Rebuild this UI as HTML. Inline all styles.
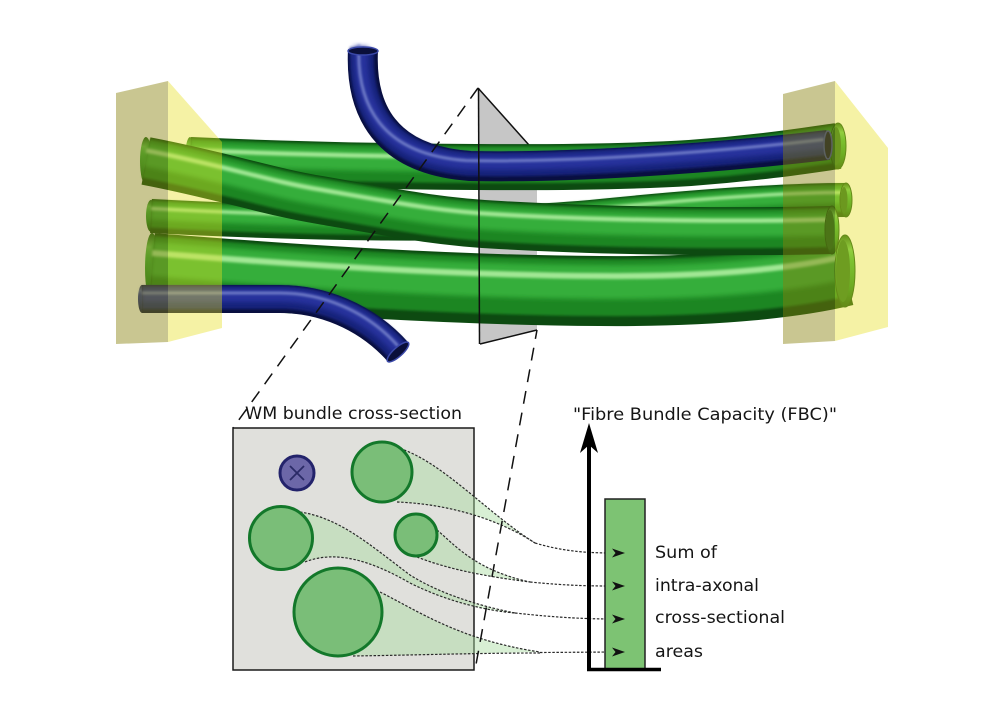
<!DOCTYPE html>
<html><head><meta charset="utf-8"><style>
html,body{margin:0;padding:0;background:#fff;}
svg{display:block;}
text{font-family:"DejaVu Sans","Liberation Sans",sans-serif;fill:#151515;}
</style></head><body>
<svg width="992" height="716" viewBox="0 0 992 716" xmlns="http://www.w3.org/2000/svg">
<defs>
<path id="pA" fill="none" d="M190,160 C320,166 560,171 690,163 C760,158 810,150 838,146"/>
<path id="pB" fill="none" d="M146,161 C220,175 270,192 320,200 C400,214 440,222 500,225 C620,232 760,232 832,230"/>
<path id="pC" fill="none" d="M151,216 C300,224 480,228 600,216 C700,206 790,200 846,200"/>
<path id="pD" fill="none" d="M152,268 C300,280 450,290 600,291 C720,292 800,282 845,271"/>
<path id="pE" fill="none" d="M142,299 L280,299 C320,299 365,315 398,352"/>
<path id="pF" fill="none" d="M363,50 C360,110 385,160 470,166 C560,168 700,160 828,145"/>
<linearGradient id="gG" x1="0" y1="0" x2="0" y2="1">
<stop offset="0" stop-color="#145e18"/><stop offset="0.2" stop-color="#5cc456"/><stop offset="0.35" stop-color="#39b03e"/><stop offset="0.7" stop-color="#1e8a26"/><stop offset="1" stop-color="#0f5214"/>
</linearGradient>
<linearGradient id="gBl" x1="0" y1="0" x2="0" y2="1">
<stop offset="0" stop-color="#0c1450"/><stop offset="0.2" stop-color="#5a66b8"/><stop offset="0.35" stop-color="#24309a"/><stop offset="0.7" stop-color="#18237a"/><stop offset="1" stop-color="#090f40"/>
</linearGradient>
<filter id="f1" filterUnits="userSpaceOnUse" x="0" y="0" width="992" height="716"><feGaussianBlur stdDeviation="1.2"/></filter>
<filter id="f2" filterUnits="userSpaceOnUse" x="0" y="0" width="992" height="716"><feGaussianBlur stdDeviation="2.5"/></filter>
</defs>

<!-- grey plane -->
<polygon points="478,88 537,154 537,330 480,344" fill="#c6c6c6"/>
<line x1="478" y1="88" x2="537" y2="154" stroke="#111" stroke-width="1.5"/>
<line x1="480" y1="344" x2="537" y2="330" stroke="#111" stroke-width="1.5"/>

<!-- Tube C -->
<g>
<ellipse cx="151" cy="216" rx="5" ry="16" fill="url(#gG)"/>
<use href="#pC" stroke="#0d4a11" stroke-width="34"/>
<use href="#pC" stroke="#1c8624" stroke-width="27" transform="translate(0,-2)" filter="url(#f1)"/>
<use href="#pC" stroke="#34ae3a" stroke-width="16" transform="translate(0,-4.5)" filter="url(#f2)"/>
<use href="#pC" stroke="#a2e895" stroke-width="3.5" transform="translate(0,-7.5)" filter="url(#f1)"/>
<ellipse cx="846" cy="200" rx="6" ry="17" fill="url(#gG)" stroke="#0f5214" stroke-width="1"/>
<ellipse cx="844" cy="200" rx="3.5" ry="13" fill="#1c6a21"/>
</g>

<!-- Tube A -->
<g>
<ellipse cx="190" cy="160" rx="5" ry="23" fill="url(#gG)"/>
<use href="#pA" stroke="#0d4a11" stroke-width="46"/>
<use href="#pA" stroke="#1c8624" stroke-width="37" transform="translate(0,-2.5)" filter="url(#f1)"/>
<use href="#pA" stroke="#34ae3a" stroke-width="22" transform="translate(0,-6)" filter="url(#f2)"/>
<use href="#pA" stroke="#a2e895" stroke-width="4.5" transform="translate(0,-10)" filter="url(#f1)"/>
<ellipse cx="838" cy="146" rx="8" ry="23" fill="url(#gG)" stroke="#0f5214" stroke-width="1"/>
<ellipse cx="836" cy="146" rx="5" ry="19" fill="#1c6a21"/>
</g>

<!-- Tube D -->
<g>
<ellipse cx="152" cy="268" rx="7" ry="35" fill="url(#gG)"/>
<use href="#pD" stroke="#0d4a11" stroke-width="70"/>
<use href="#pD" stroke="#1c8624" stroke-width="57" transform="translate(0,-3.5)" filter="url(#f1)"/>
<use href="#pD" stroke="#34ae3a" stroke-width="34" transform="translate(0,-9)" filter="url(#f2)"/>
<use href="#pD" stroke="#a2e895" stroke-width="6" transform="translate(0,-15)" filter="url(#f1)"/>
<ellipse cx="845" cy="271" rx="10" ry="36" fill="url(#gG)" stroke="#0f5214" stroke-width="1"/>
<ellipse cx="843" cy="271" rx="7" ry="31" fill="#1f7224"/>
</g>

<!-- Tube B -->
<g>
<ellipse cx="146" cy="161" rx="6" ry="24" fill="url(#gG)"/>
<use href="#pB" stroke="#0d4a11" stroke-width="48"/>
<use href="#pB" stroke="#1c8624" stroke-width="39" transform="translate(0,-2.5)" filter="url(#f1)"/>
<use href="#pB" stroke="#34ae3a" stroke-width="23" transform="translate(0,-6)" filter="url(#f2)"/>
<use href="#pB" stroke="#a2e895" stroke-width="4.5" transform="translate(0,-10.5)" filter="url(#f1)"/>
<ellipse cx="832" cy="230" rx="7" ry="24" fill="url(#gG)" stroke="#0f5214" stroke-width="1"/>
<ellipse cx="830" cy="230" rx="4.5" ry="20" fill="#1c6a21"/>
</g>

<!-- Blue tube E -->
<g>
<ellipse cx="142" cy="299" rx="4" ry="14" fill="url(#gBl)"/>
<use href="#pE" stroke="#090f40" stroke-width="28"/>
<use href="#pE" stroke="#18237a" stroke-width="23" transform="translate(0,-1.5)" filter="url(#f1)"/>
<use href="#pE" stroke="#26329c" stroke-width="13" transform="translate(0,-3.5)" filter="url(#f2)"/>
<use href="#pE" stroke="#7e8ad0" stroke-width="2.5" transform="translate(0,-6)" filter="url(#f1)"/>
<ellipse cx="398" cy="352" rx="14" ry="4.5" transform="rotate(-42 398 352)" fill="#0a0f3a" stroke="#3a48a8" stroke-width="1.5"/>
</g>

<!-- Blue tube F -->
<g>
<use href="#pF" stroke="#090f40" stroke-width="30"/>
<use href="#pF" stroke="#18237a" stroke-width="24" transform="translate(-1,-2)" filter="url(#f1)"/>
<use href="#pF" stroke="#26329c" stroke-width="14" transform="translate(-2,-3.5)" filter="url(#f2)"/>
<use href="#pF" stroke="#7e8ad0" stroke-width="2.5" transform="translate(-4,-5.5)" filter="url(#f1)"/>
<ellipse cx="363" cy="51" rx="15" ry="4" fill="#0a0f3a" stroke="#3a48a8" stroke-width="1.5"/>
<ellipse cx="828" cy="145" rx="4" ry="14" fill="#0a0f3a" stroke="#3a48a8" stroke-width="1.5"/>
</g>

<!-- plane front edge -->
<line x1="478.5" y1="88" x2="479.5" y2="344" stroke="#111" stroke-width="1.5"/>

<!-- yellow boxes -->
<polygon points="116,93 168,81 168,342 116,344" fill="rgb(135,128,10)" fill-opacity="0.45"/>
<polygon points="168,81 222,142 222,328 168,342" fill="rgb(230,222,30)" fill-opacity="0.4"/>
<polygon points="783,94 835,81 835,341 783,344" fill="rgb(135,128,10)" fill-opacity="0.45"/>
<polygon points="835,81 888,148 888,327 835,341" fill="rgb(230,222,30)" fill-opacity="0.4"/>

<!-- cross-section box -->
<rect x="233" y="428" width="241" height="242" fill="#e0e0dc" stroke="#1a1a1a" stroke-width="1.5"/>

<!-- bands -->
<g fill="#a8dca0" fill-opacity="0.45">
<path d="M404,450 C445,465 490,515 535,543 C500,520 450,504 397,502 Z"/>
<path d="M437,530 C455,545 475,570 530,582 C490,577 450,570 417,557 Z"/>
<path d="M300,512 C340,518 370,545 410,575 C445,597 490,608 515,613 C490,611 450,603 410,583 C370,560 335,550 305,562 Z"/>
<path d="M380,592 C420,612 460,640 540,652 C480,653 420,655 353,656 Z"/>
</g>

<!-- dotted curves -->
<g fill="none" stroke="#2a2a2a" stroke-width="1.2" stroke-dasharray="2.5 1.6">
<path d="M404,450 C445,465 490,515 535,543"/>
<path d="M397,502 C450,504 500,520 535,543"/>
<path d="M535,543 C565,552 590,553 614,553"/>
<path d="M437,530 C455,545 475,570 530,582"/>
<path d="M417,557 C450,570 490,577 530,582"/>
<path d="M530,582 C570,586 595,586 614,586"/>
<path d="M300,512 C340,518 370,545 410,575 C445,597 490,608 515,613"/>
<path d="M305,562 C335,550 370,560 410,583 C450,603 490,611 515,613"/>
<path d="M515,613 C560,618 590,619 614,619"/>
<path d="M380,592 C420,612 460,640 540,652"/>
<path d="M353,656 C420,655 480,653 540,653"/>
<path d="M540,652.5 L614,652"/>
</g>

<!-- circles -->
<circle cx="297" cy="473" r="17" fill="#6c67a8" stroke="#23236b" stroke-width="3"/>
<line x1="290" y1="466" x2="304" y2="480" stroke="#2a2a66" stroke-width="1.8"/>
<line x1="304" y1="466" x2="290" y2="480" stroke="#2a2a66" stroke-width="1.8"/>
<g fill="#7abe78" stroke="#13782a" stroke-width="3">
<circle cx="382" cy="472" r="30"/>
<circle cx="281" cy="538" r="31.5"/>
<circle cx="416" cy="535" r="21"/>
<circle cx="338" cy="612" r="44"/>
</g>

<!-- bar chart -->
<rect x="605" y="499" width="40" height="171" fill="#7dc373" stroke="#222" stroke-width="1.5"/>
<line x1="589" y1="445" x2="589" y2="671" stroke="#000" stroke-width="4"/>
<polygon points="589,423 598,453 589,445 580,453" fill="#000"/>
<line x1="587" y1="669.5" x2="661" y2="669.5" stroke="#000" stroke-width="3.5"/>

<!-- arrowheads -->
<g fill="#111">
<polygon points="625,553 612,548.5 615.5,553 612,557.5"/>
<polygon points="625,586 612,581.5 615.5,586 612,590.5"/>
<polygon points="625,619 612,614.5 615.5,619 612,623.5"/>
<polygon points="625,652 612,647.5 615.5,652 612,656.5"/>
</g>

<!-- dashed projection lines -->
<line x1="478" y1="88" x2="233" y2="428" stroke="#111" stroke-width="1.5" stroke-dasharray="13 9"/>
<line x1="537" y1="330" x2="475" y2="670" stroke="#111" stroke-width="1.5" stroke-dasharray="13 9" stroke-dashoffset="4"/>

<!-- text -->
<text x="245" y="419" font-size="16.5" textLength="217" lengthAdjust="spacingAndGlyphs">WM bundle cross-section</text>
<text x="573" y="420" font-size="16.5" textLength="264" lengthAdjust="spacingAndGlyphs">"Fibre Bundle Capacity (FBC)"</text>
<text x="655" y="558" font-size="16.5" textLength="62" lengthAdjust="spacingAndGlyphs">Sum of</text>
<text x="655" y="591" font-size="16.5" textLength="104" lengthAdjust="spacingAndGlyphs">intra-axonal</text>
<text x="655" y="623" font-size="16.5" textLength="130" lengthAdjust="spacingAndGlyphs">cross-sectional</text>
<text x="655" y="657" font-size="16.5" textLength="48" lengthAdjust="spacingAndGlyphs">areas</text>
</svg>
</body></html>
